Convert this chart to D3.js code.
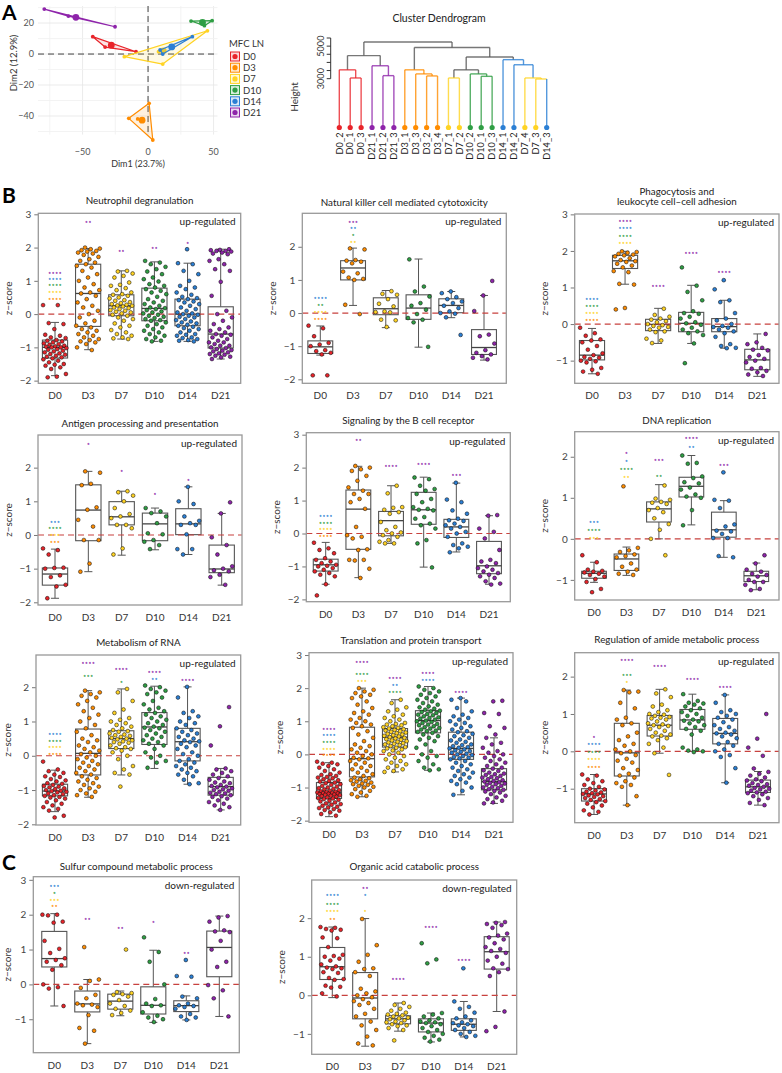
<!DOCTYPE html>
<html><head><meta charset="utf-8">
<script src="https://cdn.jsdelivr.net/npm/d3@7"></script>
<style>body{margin:0;background:#fff}svg{display:block}text{font-family:Lato,"Noto Sans",sans-serif}</style>
</head><body><svg id="c" width="782" height="1073"></svg>
<script>
const groups = ["D0","D3","D7","D10","D14","D21"];
const palette = ["#E8242A","#FF8C00","#FFD323","#2F9E44","#2B7FD4","#8E24AA"];

// ---------- Panel A: PCA ----------
const pcaGroup = ["D0","D0","D0","D3","D3","D3","D3","D7","D7","D7","D7","D10","D10","D10","D14","D14","D14","D21","D21","D21"];
const pcaDim1 = [-42.2,-32.8,-9.2, 0.8,-14.7,3.6,-7.9, -18.1,11.2,45.3,8.0, 32.8,48.9,43.0, 9.2,11.2,33.8, -79.2,-60.8,-25.2];
const pcaDim2 = [11.2,4.5,1.5, -31.8,-41.5,-55.5,-41.9, -1.7,-6.5,15.0,1.5, 21.3,21.5,18.3, 2.6,0.0,11.2, 29.0,24.5,17.6];
const pcaXTicks = [-50,0,50];
const pcaYTicks = [-40,-20,0,20];

// ---------- Dendrogram: [height, cluster, left, right] ----------
const dendroTree = [5250, null,
  [4419, null,
    [3544, "D0", "D0_2", [3044, "D0", "D0_1", "D0_3"]],
    [3794, "D21", "D21_1", [3187, "D21", "D21_2", "D21_3"]]],
  [4919, null,
    [3544, "D3", "D3_1", [3294, "D3", "D3_3", [3169, "D3", "D3_2", "D3_4"]]],
    [4331, null,
      [3544, null, [3044, "D7", "D7_1", "D7_2"], [3294, "D10", "D10_2", [3144, "D10", "D10_1", "D10_3"]]],
      [4169, "D14", "D14_1", [3856, "D14", "D14_2", [3044, "D7", "D7_4", [2981, "D7", "D7_3", "D14_3"]]]]]]];
const dendroTicks = [3000,3500,4000,4500,5000,5500];
const dendroTickLabels = [3000,5000];

// ---------- Box panels: points per group, box [lo,q1,med,q3,hi], stars [group, vs, n, z] ----------
const neutroPts = [
 [0.27,0.27,-0.27,-0.3,-0.45,-0.62,-0.65,-0.7,-0.72,-0.78,-0.8,-0.82,-0.85,-0.88,-0.9,-0.92,-0.95,-0.97,-0.98,-1.0,-1.0,-1.02,-1.05,-1.07,-1.1,-1.12,-1.15,-1.18,-1.2,-1.22,-1.25,-1.28,-1.3,-1.33,-1.36,-1.4,-1.45,-1.5,-1.52,-1.55,-1.6,-1.65,-1.8,-1.88,-1.9],
 [2.0,1.97,1.95,1.92,1.9,1.88,1.85,1.82,1.78,1.72,1.65,1.6,1.55,1.5,1.45,1.4,1.3,1.2,1.1,1.0,0.9,0.8,0.72,0.65,0.62,0.55,0.45,0.35,0.25,0.2,0.1,0.0,-0.1,-0.2,-0.28,-0.35,-0.4,-0.45,-0.5,-0.55,-0.6,-0.65,-0.7,-0.75,-0.78,-0.82,-0.85,-0.9,-1.0,-1.08],
 [1.3,1.28,1.22,1.15,1.1,0.95,0.88,0.85,0.78,0.72,0.65,0.6,0.58,0.55,0.5,0.47,0.42,0.4,0.36,0.33,0.3,0.28,0.26,0.25,0.23,0.2,0.18,0.15,0.12,0.1,0.07,0.05,0.02,-0.02,-0.05,-0.1,-0.15,-0.2,-0.28,-0.35,-0.4,-0.48,-0.55,-0.6,-0.65,-0.7,-0.73,-0.75],
 [1.6,1.55,1.5,1.42,1.35,1.28,1.2,1.1,1.05,0.98,0.9,0.85,0.8,0.75,0.7,0.65,0.6,0.52,0.45,0.4,0.35,0.3,0.25,0.2,0.18,0.15,0.12,0.08,0.05,0.02,-0.02,-0.05,-0.08,-0.12,-0.15,-0.18,-0.2,-0.25,-0.3,-0.35,-0.4,-0.45,-0.5,-0.55,-0.6,-0.65,-0.7,-0.75,-0.8,-0.82],
 [1.95,1.53,1.5,1.3,1.2,1.0,0.85,0.8,0.75,0.65,0.58,0.52,0.48,0.45,0.42,0.38,0.35,0.3,0.25,0.2,0.15,0.1,0.05,0.02,0.0,-0.02,-0.05,-0.08,-0.1,-0.15,-0.18,-0.22,-0.25,-0.28,-0.32,-0.35,-0.38,-0.42,-0.45,-0.5,-0.55,-0.6,-0.62,-0.65,-0.7,-0.72,-0.75,-0.78,-0.8,-0.82],
 [1.95,1.93,1.92,1.9,1.9,1.88,1.85,1.82,1.8,1.65,1.6,1.5,1.35,1.3,0.97,0.55,0.1,0.0,-0.1,-0.2,-0.3,-0.4,-0.45,-0.5,-0.55,-0.6,-0.62,-0.65,-0.7,-0.75,-0.8,-0.85,-0.85,-0.9,-0.95,-0.95,-1.0,-1.02,-1.05,-1.08,-1.1,-1.12,-1.15,-1.18,-1.2,-1.22,-1.25,-1.28,-1.3,-1.35]];
const neutroBox = [[-1.85,-1.32,-1.0,-0.78,-0.25],[-1.07,-0.37,0.62,1.5,1.97],[-0.75,-0.05,0.25,0.58,1.3],[-0.82,-0.2,0.17,0.78,1.57],[-0.82,-0.35,0.0,0.45,1.53],[-1.35,-1.02,-0.6,0.22,1.95]];
const neutroStars = [["D0","D3",4,0.47],["D0","D7",4,0.67],["D0","D10",4,0.87],["D0","D14",4,1.07],["D0","D21",4,1.25],["D3","D21",2,2.78],["D7","D21",2,1.9],["D10","D21",2,1.98],["D14","D21",1,2.15]];

const nkPts = [
 [-0.38,-0.46,-0.7,-0.9,-0.95,-1.0,-1.12,-1.15,-1.2,-1.25,-1.88,-1.88],
 [1.95,1.92,1.6,1.58,1.55,1.5,1.25,1.2,1.07,1.03,1.0,0.25,-0.03],
 [0.66,0.58,0.55,0.42,0.28,0.2,0.05,0.03,0.02,-0.2,-0.22,-0.42],
 [1.62,0.8,0.65,0.5,0.3,0.22,0.1,-0.03,-0.15,-0.2,-0.28,-1.02],
 [0.65,0.6,0.48,0.42,0.35,0.3,0.22,0.15,0.05,0.0,-0.02,-0.13,-0.66],
 [0.97,0.53,0.06,-0.65,-0.7,-0.92,-1.12,-1.2,-1.25,-1.3,-1.35,-1.4]];
const nkBox = [[-1.27,-1.22,-1.02,-0.84,-0.39],[0.23,1.0,1.36,1.58,1.96],[-0.44,-0.05,0.13,0.46,0.68],[-1.03,-0.19,0.15,0.55,1.63],[-0.14,0.01,0.23,0.43,0.65],[-1.42,-1.25,-1.04,-0.5,0.53]];
const nkStars = [["D0","D3",4,-0.17],["D0","D7",4,0.03],["D0","D10",2,0.25],["D0","D14",4,0.45],["D3","D7",2,2.16],["D3","D10",1,2.36],["D3","D14",2,2.56],["D3","D21",3,2.76]];

const phagoPts = [
 [-0.1,-0.25,-0.32,-0.42,-0.45,-0.5,-0.6,-0.7,-0.8,-0.85,-0.9,-0.92,-0.95,-1.0,-1.02,-1.05,-1.2,-1.25,-1.3,-1.36],
 [1.99,1.97,1.95,1.92,1.9,1.88,1.85,1.8,1.75,1.72,1.7,1.65,1.6,1.55,1.45,1.42,1.1,1.08,0.44,0.4],
 [0.42,0.25,0.2,0.15,0.12,0.08,0.05,0.0,-0.03,-0.05,-0.08,-0.1,-0.15,-0.2,-0.22,-0.4,-0.45,-0.52],
 [1.55,1.05,0.88,0.65,0.35,0.3,0.28,0.2,0.15,0.05,0.02,-0.02,-0.1,-0.15,-0.2,-0.25,-0.3,-0.53,-1.07],
 [1.2,0.95,0.65,0.6,0.3,0.15,0.1,0.0,-0.05,-0.08,-0.1,-0.15,-0.2,-0.25,-0.35,-0.55,-0.6,-0.65,-0.66],
 [-0.27,-0.5,-0.55,-0.65,-0.7,-0.72,-0.85,-0.9,-0.95,-1.0,-1.05,-1.2,-1.22,-1.28,-1.32,-1.38,-1.42]];
const phagoBox = [[-1.36,-0.98,-0.85,-0.45,-0.12],[1.09,1.52,1.73,1.88,1.99],[-0.53,-0.18,-0.01,0.13,0.43],[-0.53,-0.21,0.02,0.32,1.06],[-0.66,-0.21,-0.07,0.15,0.65],[-1.43,-1.25,-0.98,-0.69,-0.27]];
const phagoStars = [["D0","D3",4,0.11],["D0","D7",4,0.31],["D0","D10",4,0.51],["D0","D14",4,0.7],["D3","D7",4,2.22],["D3","D10",4,2.42],["D3","D14",4,2.62],["D3","D21",4,2.82],["D7","D21",4,1.05],["D10","D21",4,1.95],["D14","D21",4,1.42]];

const antigenPts = [
 [-0.4,-0.45,-0.58,-0.97,-0.98,-1.0,-1.2,-1.25,-1.48,-1.53,-1.88],
 [1.89,1.85,1.52,1.48,0.82,0.75,0.45,0.25,-0.15,-0.15,-0.85,-1.09],
 [1.3,1.27,1.17,1.0,0.8,0.62,0.55,0.5,0.3,0.3,0.2,-0.4,-0.58],
 [0.8,0.7,0.65,0.55,0.35,0.05,0.02,-0.15,-0.2,-0.3,-0.42],
 [1.43,1.0,0.92,0.55,0.42,0.35,0.3,0.3,0.02,-0.42,-0.42,-0.58],
 [0.97,0.64,-0.07,-0.3,-0.58,-0.93,-1.0,-1.05,-1.08,-1.18,-1.25,-1.48]];
const antigenBox = [[-1.88,-1.49,-1.16,-0.98,-0.42],[-1.09,-0.17,0.74,1.49,1.89],[-0.6,0.3,0.54,0.99,1.3],[-0.44,-0.17,0.33,0.65,0.8],[-0.58,0.01,0.33,0.78,1.43],[-1.49,-1.12,-1.01,-0.3,0.64]];
const antigenStars = [["D0","D3",3,-0.19],["D0","D7",3,0.0],["D0","D10",4,0.2],["D0","D14",3,0.4],["D3","D21",1,2.7],["D7","D21",1,1.91],["D10","D21",1,1.22],["D14","D21",1,1.65]];

const bcellPts = [
 [-0.28,-0.45,-0.5,-0.6,-0.75,-0.8,-0.85,-0.9,-0.95,-0.98,-1.0,-1.05,-1.1,-1.15,-1.2,-1.25,-1.3,-1.54,-1.88],
 [2.05,2.0,1.95,1.9,1.75,1.6,1.4,1.3,1.2,1.2,1.05,0.95,0.75,0.2,-0.05,-0.1,-0.15,-0.48,-0.5,-0.8,-0.8,-0.82,-1.07,-1.35],
 [1.45,1.22,0.8,0.78,0.72,0.65,0.6,0.35,0.2,0.1,0.03,0.0,-0.05,-0.1,-0.2,-0.25,-0.3,-0.3],
 [1.7,1.65,1.45,1.35,1.3,1.2,1.05,0.95,0.8,0.75,0.72,0.7,0.5,0.45,0.3,0.25,0.15,-0.2,-0.3,-1.03],
 [1.54,1.03,0.95,0.7,0.6,0.45,0.4,0.38,0.3,0.25,0.2,0.15,0.05,0.0,-0.1,-0.3,-0.35,-0.4,-0.45,-0.57],
 [0.56,0.54,0.15,0.05,-0.15,-0.5,-0.8,-0.85,-0.9,-1.0,-1.05,-1.1,-1.15,-1.2,-1.25,-1.3,-1.35,-1.45,-1.52,-1.55]];
const bcellBox = [[-1.54,-1.14,-0.95,-0.78,-0.27],[-1.34,-0.48,0.74,1.32,2.04],[-0.3,-0.07,0.39,0.67,1.45],[-1.02,0.28,0.72,1.25,1.71],[-0.56,-0.12,0.2,0.43,1.53],[-1.54,-1.22,-0.98,-0.24,0.54]];
const bcellStars = [["D0","D3",4,-0.07],["D0","D7",4,0.13],["D0","D10",4,0.34],["D0","D14",4,0.53],["D3","D21",2,2.84],["D7","D21",4,2.06],["D10","D21",4,2.11],["D14","D21",3,1.78]];

const dnaPts = [
 [-0.4,-0.57,-0.75,-0.78,-0.8,-0.82,-0.85,-0.88,-0.92,-0.98,-1.05,-1.22,-1.3],
 [1.28,-0.22,-0.28,-0.32,-0.38,-0.42,-0.45,-0.6,-0.68,-0.75,-0.8,-0.85,-0.88],
 [1.3,0.98,0.95,0.9,0.88,0.85,0.75,0.7,0.65,0.5,0.36,0.22,0.0,-0.4],
 [2.03,1.85,1.83,1.52,1.48,1.38,1.35,1.25,1.2,1.08,1.03,1.0,0.7,0.33],
 [1.62,0.95,0.93,0.75,0.35,0.3,0.2,0.18,0.12,0.02,0.02,-0.42,-0.45],
 [-0.4,-0.6,-0.75,-0.8,-0.85,-0.88,-0.92,-1.0,-1.05,-1.05,-1.12,-1.22,-1.25]];
const dnaBox = [[-1.06,-0.96,-0.84,-0.79,-0.57],[-0.89,-0.77,-0.49,-0.37,-0.2],[0.0,0.41,0.73,0.9,1.32],[0.34,1.02,1.28,1.5,2.03],[-0.45,0.04,0.22,0.65,0.93],[-1.24,-1.04,-0.9,-0.79,-0.59]];
const dnaStars = [["D0","D7",3,0.02],["D0","D10",4,0.22],["D0","D14",3,0.41],["D3","D7",2,1.5],["D3","D10",4,1.71],["D3","D14",1,1.91],["D3","D21",1,2.1],["D7","D10",2,1.53],["D7","D21",3,1.93],["D10","D14",2,2.25],["D10","D21",4,2.45],["D14","D21",3,1.81]];

const rnaPts = [
 [-0.17,-0.4,-0.45,-0.5,-0.55,-0.6,-0.62,-0.68,-0.72,-0.75,-0.8,-0.82,-0.85,-0.88,-0.9,-0.92,-0.95,-0.97,-1.0,-1.02,-1.03,-1.05,-1.07,-1.1,-1.12,-1.15,-1.17,-1.2,-1.22,-1.25,-1.3,-1.35,-1.4,-1.45,-1.5,-1.55,-1.6,-1.75,-1.8],
 [1.9,1.85,1.8,1.75,1.7,1.6,1.5,1.4,1.3,1.2,1.1,1.0,0.9,0.8,0.7,0.6,0.5,0.45,0.4,0.3,0.25,0.2,0.15,0.1,0.05,0.0,-0.05,-0.1,-0.15,-0.2,-0.25,-0.3,-0.35,-0.4,-0.45,-0.5,-0.55,-0.6,-0.65,-0.7,-0.75,-0.8,-0.85,-0.9,-0.95,-1.0,-1.05,-1.1,-1.15,-1.2],
 [1.95,1.85,1.6,1.35,1.25,1.1,1.05,1.0,0.95,0.9,0.85,0.8,0.75,0.72,0.7,0.65,0.62,0.6,0.58,0.55,0.52,0.5,0.48,0.45,0.42,0.4,0.38,0.35,0.3,0.25,0.22,0.2,0.15,0.1,0.0,-0.1,-0.3,-0.4,-0.5,-0.55,-0.9],
 [2.05,2.0,1.95,1.9,1.85,1.8,1.7,1.6,1.5,1.4,1.35,1.3,1.25,1.2,1.15,1.1,1.05,1.0,0.95,0.9,0.85,0.82,0.8,0.75,0.7,0.65,0.6,0.55,0.5,0.45,0.4,0.35,0.3,0.2,0.1,0.0,-0.05,-0.15,-0.2,-0.35],
 [2.01,1.7,1.3,1.25,1.15,1.1,1.0,0.95,0.9,0.8,0.75,0.7,0.65,0.6,0.55,0.5,0.45,0.42,0.4,0.35,0.3,0.25,0.2,0.1,0.05,0.0,-0.1,-0.15,-0.2,-0.25,-0.3,-0.35,-0.4,-0.45,-0.5,-0.55,-0.6,-0.7,-0.8,-0.83],
 [1.42,0.86,0.3,-0.37,-0.4,-0.45,-0.5,-0.55,-0.6,-0.65,-0.7,-0.75,-0.78,-0.8,-0.85,-0.88,-0.9,-0.92,-0.95,-0.98,-1.0,-1.02,-1.05,-1.08,-1.1,-1.12,-1.15,-1.18,-1.2,-1.25,-1.3,-1.35,-1.4,-1.45,-1.5,-1.58]];
const rnaBox = [[-1.63,-1.17,-1.03,-0.83,-0.42],[-1.21,-0.56,0.07,0.78,1.9],[-0.56,0.21,0.5,0.73,1.95],[-0.37,0.33,0.84,1.26,2.03],[-0.83,-0.15,0.41,0.8,2.01],[-1.58,-1.15,-0.9,-0.63,-0.37]];
const rnaStars = [["D0","D3",4,0.07],["D0","D7",4,0.26],["D0","D10",4,0.45],["D0","D14",4,0.65],["D3","D10",3,2.32],["D3","D21",4,2.72],["D7","D10",1,2.16],["D7","D21",4,2.55],["D10","D14",2,2.25],["D10","D21",4,2.45],["D14","D21",4,2.23]];

const translPts = [
 [-0.22,-0.25,-0.28,-0.3,-0.35,-0.4,-0.45,-0.5,-0.55,-0.6,-0.62,-0.65,-0.68,-0.7,-0.72,-0.75,-0.78,-0.8,-0.82,-0.85,-0.87,-0.9,-0.92,-0.95,-0.97,-1.0,-1.02,-1.04,-1.06,-1.08,-1.1,-1.12,-1.13,-1.14,-1.15,-1.16,-1.17,-1.18,-1.19,-1.2,-1.21,-1.22,-1.23,-1.25,-1.26,-1.28,-1.3,-1.32,-1.33,-1.35,-1.37,-1.4,-1.42,-1.45,-1.48,-1.5,-1.52,-1.55,-1.58,-1.6,-1.62,-1.65,-1.68,-1.7,-1.75,-1.8,-1.85],
 [2.0,1.95,1.9,1.85,1.8,1.75,1.7,1.6,1.5,1.4,1.3,1.25,1.2,1.1,1.05,1.0,0.95,0.9,0.85,0.8,0.7,0.6,0.5,0.4,0.3,0.25,0.2,0.15,0.1,0.05,0.0,-0.05,-0.1,-0.12,-0.15,-0.2,-0.25,-0.3,-0.35,-0.4,-0.45,-0.5,-0.55,-0.6,-0.65,-0.7,-0.72,-0.75,-0.78,-0.8,-0.82,-0.85,-0.88,-0.9,-0.92,-0.95,-0.98,-1.0,-1.05,-1.1,-1.15,-1.2,-1.25,-1.28],
 [1.65,1.55,1.42,1.35,1.3,1.2,1.15,1.1,1.05,1.0,0.95,0.92,0.9,0.88,0.85,0.82,0.8,0.78,0.76,0.74,0.72,0.7,0.68,0.66,0.64,0.62,0.6,0.58,0.56,0.54,0.52,0.5,0.48,0.46,0.44,0.42,0.4,0.38,0.36,0.34,0.32,0.3,0.28,0.25,0.22,0.2,0.18,0.15,0.12,0.1,0.05,0.0,-0.05,-0.1,-0.15,-0.2,-0.25,-0.3,-0.35,-0.4,-0.45,-0.5,-0.53],
 [2.05,2.0,1.95,1.9,1.85,1.8,1.75,1.7,1.65,1.6,1.55,1.5,1.45,1.42,1.38,1.35,1.32,1.3,1.28,1.25,1.22,1.2,1.18,1.15,1.12,1.1,1.08,1.05,1.02,1.0,0.98,0.95,0.92,0.9,0.88,0.85,0.82,0.8,0.78,0.75,0.72,0.7,0.68,0.65,0.6,0.55,0.5,0.45,0.4,0.3,0.2,0.1,0.0,-0.05,-0.1,-0.2,-0.3,-0.4,-0.45,-0.48],
 [1.7,1.65,1.6,1.4,1.3,1.2,1.15,1.1,1.05,1.0,0.95,0.9,0.85,0.8,0.75,0.7,0.67,0.62,0.58,0.55,0.5,0.45,0.42,0.38,0.35,0.3,0.28,0.25,0.22,0.2,0.18,0.15,0.12,0.1,0.08,0.05,0.02,0.0,-0.02,-0.05,-0.08,-0.1,-0.12,-0.15,-0.2,-0.25,-0.3,-0.35,-0.4,-0.45,-0.5,-0.55,-0.6,-0.65,-0.7,-0.75,-0.8,-0.85,-0.9,-1.0,-1.1,-1.22],
 [1.62,1.6,1.25,1.22,0.85,0.8,0.6,0.5,0.35,0.3,0.2,0.1,0.05,0.0,-0.05,-0.1,-0.15,-0.2,-0.25,-0.3,-0.35,-0.4,-0.43,-0.48,-0.5,-0.55,-0.58,-0.6,-0.62,-0.65,-0.68,-0.7,-0.72,-0.75,-0.78,-0.8,-0.82,-0.84,-0.86,-0.88,-0.9,-0.92,-0.95,-0.98,-1.0,-1.02,-1.05,-1.07,-1.1,-1.12,-1.15,-1.2,-1.25,-1.3,-1.35,-1.4,-1.45,-1.48]];
const translBox = [[-1.88,-1.33,-1.15,-0.85,-0.25],[-1.28,-0.68,-0.13,0.82,2.0],[-0.53,0.22,0.52,0.78,1.65],[-0.48,0.65,1.02,1.32,2.05],[-1.22,-0.15,0.18,0.67,1.7],[-1.48,-1.07,-0.82,-0.43,0.5]];
const translStars = [["D0","D3",4,-0.02],["D0","D7",4,0.18],["D0","D10",4,0.38],["D0","D14",4,0.58],["D0","D21",4,0.78],["D3","D7",3,2.22],["D3","D10",4,2.42],["D3","D21",4,2.8],["D7","D10",4,1.9],["D7","D14",2,2.1],["D7","D21",4,2.3],["D10","D14",4,2.25],["D10","D21",4,2.45],["D14","D21",4,1.9]];

const amidePts = [
 [-0.62,-0.65,-0.75,-0.8,-0.85,-0.9,-0.95,-1.0,-1.02,-1.05,-1.08,-1.1,-1.12,-1.14,-1.15,-1.18,-1.2,-1.22,-1.25,-1.28,-1.3,-1.33,-1.36,-1.4,-1.45,-1.5,-1.58,-1.62,-1.69],
 [1.64,1.6,1.58,1.3,1.15,0.9,0.85,0.75,0.7,0.5,0.4,0.3,0.2,0.15,0.05,0.0,-0.05,-0.1,-0.2,-0.25,-0.3,-0.45,-0.5,-0.6,-0.65,-0.7,-0.8,-0.85,-0.9,-0.95,-1.2,-1.44],
 [1.66,1.55,1.45,1.25,1.2,1.1,1.05,1.0,0.98,0.95,0.92,0.9,0.88,0.85,0.8,0.75,0.72,0.7,0.68,0.65,0.6,0.55,0.5,0.45,0.42,0.4,0.35,0.3,0.2,0.1,-0.05,-0.63],
 [1.53,1.35,1.3,1.28,1.25,1.2,1.15,1.1,1.05,1.0,0.95,0.9,0.85,0.82,0.8,0.75,0.7,0.65,0.6,0.55,0.45,0.1,0.05,0.02,0.0,-0.02],
 [1.51,1.3,1.1,1.05,1.0,0.95,0.9,0.85,0.78,0.7,0.65,0.6,0.55,0.5,0.48,0.45,0.4,0.35,0.25,0.2,0.15,0.05,0.0,-0.1,-0.15,-0.45,-0.84],
 [1.0,0.34,0.1,-0.12,-0.46,-0.55,-0.6,-0.65,-0.7,-0.75,-0.78,-0.8,-0.85,-0.88,-0.9,-0.92,-0.95,-0.98,-1.0,-1.02,-1.05,-1.08,-1.1,-1.12,-1.15,-1.2,-1.25,-1.3,-1.38,-1.44]];
const amideBox = [[-1.69,-1.33,-1.14,-1.0,-0.62],[-1.44,-0.66,-0.04,0.75,1.64],[-0.05,0.41,0.7,0.96,1.66],[0.0,0.59,0.84,1.12,1.53],[-0.84,0.2,0.48,0.88,1.51],[-1.44,-1.1,-0.95,-0.77,-0.54]];
const amideStars = [["D0","D3",4,-0.41],["D0","D7",4,-0.2],["D0","D10",4,0.0],["D0","D14",4,0.2],["D0","D21",1,0.39],["D3","D7",1,1.85],["D3","D10",3,2.05],["D3","D21",4,2.45],["D7","D21",4,2.3],["D10","D21",4,1.93],["D14","D21",4,1.72]];

const sulfurPts = [
 [2.0,2.0,1.98,1.8,1.77,1.25,1.02,0.9,0.75,0.7,0.65,0.55,0.42,0.0,-0.08,-0.12,-0.62],
 [1.07,0.14,0.1,-0.1,-0.3,-0.4,-0.55,-0.58,-0.6,-0.65,-0.88,-1.25,-1.33,-1.7],
 [1.0,-0.22,-0.25,-0.28,-0.3,-0.35,-0.45,-0.55,-0.62,-0.7,-0.75,-0.82,-0.88],
 [1.35,0.93,0.65,0.0,-0.42,-0.55,-0.6,-0.62,-0.8,-0.9,-0.95,-1.0,-1.08],
 [0.7,0.24,0.22,-0.35,-0.4,-0.55,-0.6,-0.62,-0.65,-0.7,-0.85,-0.92,-0.95,-1.02],
 [1.96,1.92,1.8,1.55,1.52,1.5,1.25,1.0,0.65,0.5,-0.02,-0.17,-0.4,-0.92]];
const sulfurBox = [[-0.62,0.5,0.74,1.52,2.03],[-1.7,-0.79,-0.56,-0.19,0.14],[-0.9,-0.71,-0.48,-0.28,-0.19],[-1.09,-0.85,-0.6,-0.07,0.98],[-1.02,-0.78,-0.61,-0.47,-0.33],[-0.92,0.22,1.06,1.53,1.96]];
const sulfurStars = [["D0","D3",2,2.25],["D0","D7",3,2.44],["D0","D10",1,2.63],["D0","D14",3,2.84],["D3","D21",2,1.89],["D7","D21",2,1.62],["D10","D21",1,1.79],["D14","D21",2,0.92]];

const organicPts = [
 [1.77,1.75,1.72,1.7,1.68,1.5,1.48,1.25,1.05,1.02,1.0,0.95,0.9,0.8,0.75,0.72,0.7,0.68,0.6,0.58,0.45,0.42,0.4,0.25,0.22,0.2,0.05,-0.03],
 [1.98,1.3,1.05,0.87,0.7,0.68,0.6,0.5,0.17,0.1,0.05,0.0,-0.05,-0.1,-0.15,-0.2,-0.25,-0.35,-0.48,-0.55,-0.68,-0.78,-0.9,-1.07,-1.25,-1.3],
 [-0.2,-0.25,-0.3,-0.35,-0.4,-0.45,-0.48,-0.5,-0.52,-0.55,-0.58,-0.6,-0.62,-0.65,-0.68,-0.7,-0.72,-0.75,-0.78,-0.8,-0.85,-0.9,-1.17],
 [1.35,0.93,0.83,-0.46,-0.5,-0.55,-0.6,-0.65,-0.68,-0.7,-0.72,-0.75,-0.8,-0.85,-0.9,-0.95,-1.0,-1.05,-1.1,-1.15,-1.2],
 [0.7,-0.16,-0.3,-0.35,-0.45,-0.55,-0.6,-0.65,-0.7,-0.72,-0.75,-0.78,-0.8,-0.85,-0.9,-0.95,-1.0,-1.05,-1.08],
 [1.9,1.88,1.85,1.82,1.75,1.6,1.55,1.5,1.45,1.35,1.25,1.2,1.15,1.1,1.0,0.9,0.82,0.7,0.68,0.6,0.5,-0.42,-0.82,-0.93]];
const organicBox = [[-0.06,0.41,0.74,1.24,1.77],[-1.32,-0.61,-0.07,0.59,1.99],[-0.93,-0.74,-0.61,-0.53,-0.2],[-1.21,-0.95,-0.72,-0.61,-0.46],[-1.08,-0.91,-0.75,-0.61,-0.16],[-0.42,0.68,1.13,1.52,1.9]];
const organicStars = [["D0","D3",2,1.99],["D0","D7",4,2.18],["D0","D10",4,2.38],["D0","D14",4,2.6],["D3","D7",1,2.19],["D3","D14",1,2.6],["D3","D21",2,2.8],["D7","D21",4,0.42],["D10","D21",4,1.77],["D14","D21",4,0.93]];

// ---------- drawing ----------
const svg = d3.select("#c");
const color = d3.scaleOrdinal(groups, palette);
const minus = v => (v < 0 ? "\u2212" + Math.abs(v) : String(v));

[["A",2,20],["B",2,203],["C",2,870]].forEach(([t,x,y]) =>
  svg.append("text").attr("x",x).attr("y",y).attr("font-size",21).attr("font-weight","bold")
    .attr("font-family","Liberation Sans, Arial, sans-serif").text(t));

// ---- PCA ----
(function(){
  const g = svg.append("g");
  const x = d3.scaleLinear().domain([-84,53]).range([38,217.5]);
  const y = d3.scaleLinear().domain([-52,31]).range([134.6,6]);
  const xs = [-75,-50,-25,0,25,50], ys = [-50,-40,-30,-20,-10,0,10,20,30];
  g.selectAll(".gx").data(xs).join("line").attr("x1",d=>x(d)).attr("x2",d=>x(d)).attr("y1",y(31)).attr("y2",y(-52))
    .attr("stroke",d=>pcaXTicks.includes(d)?"#e6e6e6":"#f0f0f0").attr("stroke-width",0.8);
  g.selectAll(".gy").data(ys).join("line").attr("y1",d=>y(d)).attr("y2",d=>y(d)).attr("x1",x(-84)).attr("x2",x(53))
    .attr("stroke",d=>pcaYTicks.includes(d)?"#e6e6e6":"#f0f0f0").attr("stroke-width",0.8);
  g.append("line").attr("x1",x(0)).attr("x2",x(0)).attr("y1",y(31)).attr("y2",y(-52)).attr("stroke","#444").attr("stroke-dasharray","6,4");
  g.append("line").attr("y1",y(0)).attr("y2",y(0)).attr("x1",x(-84)).attr("x2",x(53)).attr("stroke","#444").attr("stroke-dasharray","6,4");
  const pts = pcaGroup.map((k,i)=>({k, a:pcaDim1[i], b:pcaDim2[i]}));
  groups.forEach(k=>{
    const gp = pts.filter(p=>p.k===k);
    const hull = d3.polygonHull(gp.map(p=>[x(p.a),y(p.b)]));
    if (hull) g.append("path").attr("d","M"+hull.join("L")+"Z").attr("fill",color(k)).attr("fill-opacity",0.12)
      .attr("stroke",color(k)).attr("stroke-width",1.2).attr("stroke-linejoin","round");
    gp.forEach(p=>g.append("circle").attr("cx",x(p.a)).attr("cy",y(p.b)).attr("r",1.9).attr("fill",color(k)));
    g.append("circle").attr("cx",x(d3.mean(gp,p=>p.a))).attr("cy",y(d3.mean(gp,p=>p.b))).attr("r",3.4).attr("fill",color(k));
  });
  pcaXTicks.forEach(t=>g.append("text").attr("x",x(t)).attr("y",155.3).attr("text-anchor","middle").attr("font-size",9).attr("fill","#555").text(minus(t)));
  pcaYTicks.forEach(t=>g.append("text").attr("x",34).attr("y",y(t)+3.2).attr("text-anchor","end").attr("font-size",9).attr("fill","#555").text(minus(t)));
  g.append("text").attr("x",138).attr("y",167).attr("text-anchor","middle").attr("font-size",9).attr("fill","#333").text("Dim1 (23.7%)");
  g.append("text").attr("transform","translate(17,63) rotate(-90)").attr("text-anchor","middle").attr("font-size",9.5).attr("fill","#333").text("Dim2 (12.9%)");
  const lg = g.append("g");
  lg.append("text").attr("x",229).attr("y",47).attr("font-size",9.5).attr("fill","#333").text("MFC LN");
  groups.forEach((k,i)=>{
    const yy = 56.5 + i*11.2;
    lg.append("rect").attr("x",230.5).attr("y",yy-4.5).attr("width",9).attr("height",9).attr("fill",color(k)).attr("fill-opacity",0.18).attr("stroke",color(k)).attr("stroke-width",1);
    lg.append("circle").attr("cx",235).attr("cy",yy).attr("r",2.6).attr("fill",color(k));
    lg.append("text").attr("x",243).attr("y",yy+3.5).attr("font-size",9.5).attr("fill","#333").text(k);
  });
})();

// ---- Dendrogram ----
(function(){
  const g = svg.append("g");
  const toNode = a => typeof a === "string" ? {name:a, h:0} : {h:a[0], key:a[1], children:[toNode(a[2]), toNode(a[3])]};
  const root = d3.hierarchy(toNode(dendroTree));
  const leaves = root.leaves();
  const x = d3.scalePoint().domain(leaves.map(l=>l.data.name)).range([339.3,546.7]);
  const y = d3.scaleLinear().domain([0,5500]).range([127.5,38]);
  root.eachAfter(n => { n.px = n.children ? d3.mean(n.children, c=>c.px) : x(n.data.name); });
  const leafCol = n => color(n.data.name.split("_")[0]);
  const nodeCol = n => n.data.key ? color(n.data.key) : "#555";
  root.each(n=>{
    if (!n.children) return;
    const c = nodeCol(n);
    g.append("line").attr("x1",d3.min(n.children,d=>d.px)).attr("x2",d3.max(n.children,d=>d.px))
      .attr("y1",y(n.data.h)).attr("y2",y(n.data.h)).attr("stroke",c).attr("stroke-width",1.4).attr("stroke-opacity",0.8);
    n.children.forEach(ch=>{
      g.append("line").attr("x1",ch.px).attr("x2",ch.px).attr("y1",y(n.data.h)).attr("y2",y(ch.data.h))
        .attr("stroke",ch.children?c:leafCol(ch)).attr("stroke-width",1.4).attr("stroke-opacity",0.8);
    });
  });
  leaves.forEach(l=>{
    g.append("circle").attr("cx",l.px).attr("cy",y(0)).attr("r",2.6).attr("fill",leafCol(l));
    g.append("text").attr("transform",`translate(${l.px+3.2},${y(0)+5}) rotate(-90)`).attr("text-anchor","end")
      .attr("font-size",9.2).attr("fill","#222").text(l.data.name);
  });
  const ax = 330.7;
  g.append("line").attr("x1",ax).attr("x2",ax).attr("y1",y(3000)).attr("y2",y(5500)).attr("stroke","#333");
  dendroTicks.forEach(t=>g.append("line").attr("x1",ax-4).attr("x2",ax).attr("y1",y(t)).attr("y2",y(t)).attr("stroke","#333"));
  dendroTickLabels.forEach(t=>g.append("text").attr("transform",`translate(${ax-7},${y(t)}) rotate(-90)`).attr("text-anchor","middle")
    .attr("font-size",9.2).attr("fill","#333").text(t));
  g.append("text").attr("transform","translate(298,97) rotate(-90)").attr("text-anchor","middle").attr("font-size",10).attr("fill","#333").text("Height");
  g.append("text").attr("x",439).attr("y",22).attr("text-anchor","middle").attr("font-size",10.5).attr("fill","#222").text("Cluster Dendrogram");
})();

// ---- Box panels ----
const panels = [
 {title:["Neutrophil degranulation"], pts:neutroPts, box:neutroBox, stars:neutroStars, reg:"up-regulated", left:38.3,right:240.7,top:213.3,bottom:383.3, ymin:-2.08,ymax:3.03, ticks:[-2,-1,0,1,2,3], x0:55,x1:220.7, ty:204},
 {title:["Natural killer cell mediated cytotoxicity"], pts:nkPts, box:nkBox, stars:nkStars, reg:"up-regulated", left:302.3,right:506.3,top:213.3,bottom:383.3, ymin:-2.12,ymax:3.01, ticks:[-2,-1,0,1,2], x0:320.3,x1:484, ty:205.5},
 {title:["Phagocytosis and","leukocyte cell\u2013cell adhesion"], pts:phagoPts, box:phagoBox, stars:phagoStars, reg:"up-regulated", left:574.7,right:779,top:214,bottom:383.3, ymin:-1.62,ymax:3.01, ticks:[-1,0,1,2,3], x0:592,x1:757.3, ty:194.5},
 {title:["Antigen processing and presentation"], pts:antigenPts, box:antigenBox, stars:antigenStars, reg:"up-regulated", left:38,right:242,top:435,bottom:605, ymin:-2.08,ymax:2.97, ticks:[-2,-1,0,1,2], x0:55,x1:221.7, ty:426.5},
 {title:["Signaling by the B cell receptor"], pts:bcellPts, box:bcellBox, stars:bcellStars, reg:"up-regulated", left:306.3,right:510.3,top:432.7,bottom:601.7, ymin:-2.07,ymax:3.06, ticks:[-2,-1,0,1,2,3], x0:325.7,x1:489, ty:424},
 {title:["DNA replication"], pts:dnaPts, box:dnaBox, stars:dnaStars, reg:"up-regulated", left:574.7,right:779,top:431.7,bottom:600, ymin:-1.49,ymax:2.61, ticks:[-1,0,1,2], x0:594,x1:756.3, ty:424},
 {title:["Metabolism of RNA"], pts:rnaPts, box:rnaBox, stars:rnaStars, reg:"up-regulated", left:36,right:240.7,top:655,bottom:825, ymin:-2.02,ymax:2.94, ticks:[-2,-1,0,1,2], x0:55,x1:220.7, ty:645.5},
 {title:["Translation and protein transport"], pts:translPts, box:translBox, stars:translStars, reg:"up-regulated", left:309,right:513,top:652.7,bottom:822.3, ymin:-2.05,ymax:3.07, ticks:[-2,-1,0,1,2,3], x0:329,x1:494, ty:644},
 {title:["Regulation of amide metabolic process"], pts:amidePts, box:amideBox, stars:amideStars, reg:"up-regulated", left:574.7,right:779,top:652.7,bottom:822.7, ymin:-1.91,ymax:2.64, ticks:[-1,0,1,2], x0:594,x1:758, ty:642.5},
 {title:["Sulfur compound metabolic process"], pts:sulfurPts, box:sulfurBox, stars:sulfurStars, reg:"down-regulated", left:33.3,right:239.3,top:876.7,bottom:1052.7, ymin:-1.96,ymax:3.09, ticks:[-1,0,1,2,3], x0:54.3,x1:219.3, ty:869.5},
 {title:["Organic acid catabolic process"], pts:organicPts, box:organicBox, stars:organicStars, reg:"down-regulated", left:311.7,right:516.7,top:880,bottom:1054.3, ymin:-1.53,ymax:2.99, ticks:[-1,0,1,2], x0:332.3,x1:496.7, ty:870}
];

panels.forEach(p=>{
  const g = svg.append("g");
  const y = d3.scaleLinear().domain([p.ymin,p.ymax]).range([p.bottom,p.top]);
  const x = d3.scalePoint().domain(groups).range([p.x0,p.x1]);
  const step = (p.x1-p.x0)/5, bw = step*0.76, jw = step*0.36;
  const cx = (p.left+p.right)/2;
  p.title.forEach((t,i)=>g.append("text").attr("x",cx).attr("y",p.ty+i*10.5).attr("text-anchor","middle")
    .attr("font-size",9.8).attr("fill","#222").text(t));
  const ax = g.append("g").attr("transform",`translate(${p.left},0)`)
    .call(d3.axisLeft(y).tickValues(p.ticks).tickSize(4).tickPadding(3).tickFormat(minus));
  ax.select(".domain").remove();
  ax.selectAll("line").attr("stroke","#777");
  ax.selectAll("text").attr("font-size",10).attr("fill","#444").attr("font-family","Lato, Noto Sans, sans-serif");
  g.append("text").attr("transform",`translate(${Math.max(p.left-30,7)},${(p.top+p.bottom)/2}) rotate(-90)`).attr("text-anchor","middle")
    .attr("dy","0.35em").attr("font-size",10).attr("fill","#333").text("z\u2212score");
  groups.forEach(k=>g.append("text").attr("x",x(k)).attr("y",p.bottom+16).attr("text-anchor","middle").attr("font-size",10).attr("fill","#333").text(k));
  p.box.forEach((b,i)=>{
    const xc = x(groups[i]);
    const [lo,q1,md,q3,hi] = b;
    const st = "#555";
    g.append("line").attr("x1",xc).attr("x2",xc).attr("y1",y(hi)).attr("y2",y(q3)).attr("stroke",st).attr("stroke-width",1);
    g.append("line").attr("x1",xc).attr("x2",xc).attr("y1",y(q1)).attr("y2",y(lo)).attr("stroke",st).attr("stroke-width",1);
    [hi,lo].forEach(v=>g.append("line").attr("x1",xc-bw*0.16).attr("x2",xc+bw*0.16).attr("y1",y(v)).attr("y2",y(v)).attr("stroke",st));
    g.append("rect").attr("x",xc-bw/2).attr("y",y(q3)).attr("width",bw).attr("height",y(q1)-y(q3)).attr("fill","#fff").attr("fill-opacity",0.3).attr("stroke",st).attr("stroke-width",1.1);
    g.append("line").attr("x1",xc-bw/2).attr("x2",xc+bw/2).attr("y1",y(md)).attr("y2",y(md)).attr("stroke","#444").attr("stroke-width",1.3);
  });
  g.append("line").attr("x1",p.left).attr("x2",p.right).attr("y1",y(0)).attr("y2",y(0)).attr("stroke","#C8413E").attr("stroke-width",1.2).attr("stroke-dasharray","6,4");
  p.pts.forEach((arr,i)=>{
    const xc = x(groups[i]);
    arr.forEach((v,j)=>{
      const f = ((j*0.6180339887 + i*0.37) % 1) - 0.5;
      g.append("circle").attr("cx",xc + f*2*jw).attr("cy",y(v)).attr("r",1.9)
        .attr("fill",color(groups[i])).attr("stroke","#111").attr("stroke-width",0.55);
    });
  });
  // significance stars: small bold asterisks, one row per comparison
  p.stars.forEach(([k,vs,n,z])=>{
    g.append("text").attr("x",x(k)+0.6).attr("y",y(z)+3.2).attr("text-anchor","middle")
      .attr("font-family","DejaVu Sans, sans-serif").attr("font-size",5.4).attr("font-weight","bold")
      .attr("letter-spacing","1.2").attr("fill",color(vs)).attr("fill-opacity",0.9)
      .attr("stroke",color(vs)).attr("stroke-width",0.3).attr("stroke-opacity",0.6).text("*".repeat(n));
  });
  g.append("rect").attr("x",p.left).attr("y",p.top).attr("width",p.right-p.left).attr("height",p.bottom-p.top)
    .attr("fill","none").attr("stroke","#999").attr("stroke-width",1.3);
  g.append("text").attr("x",p.right-5).attr("y",p.top+12).attr("text-anchor","end").attr("font-size",10).attr("fill","#222").text(p.reg);
});
</script></body></html>
